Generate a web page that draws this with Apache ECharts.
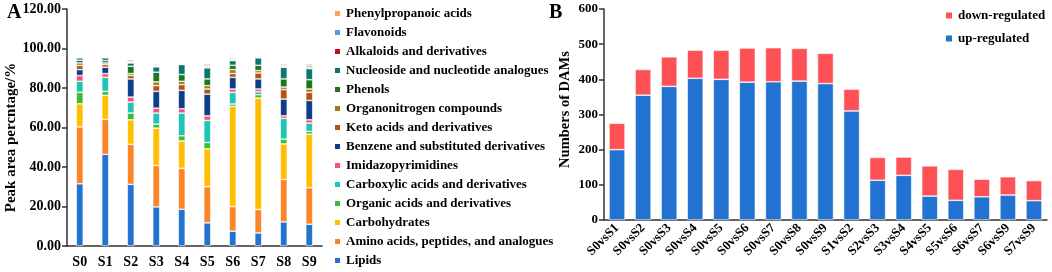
<!DOCTYPE html>
<html>
<head>
<meta charset="utf-8">
<script src="https://cdn.jsdelivr.net/npm/echarts@6/dist/echarts.min.js"></script>
<style>
  html, body { margin: 0; padding: 0; background: #fff; }
  #chart { width: 1052px; height: 272px; }
</style>
</head>
<body>
<div id="chart"></div>
<script>
// panel A: peak area percentage per sample, stacked by class
var samples = ["S0", "S1", "S2", "S3", "S4", "S5", "S6", "S7", "S8", "S9"];
var lipids         = [31.5, 46.4, 31.2, 19.8, 18.6, 11.7, 7.5, 6.6, 12.2, 11.0];
var aminoAcids     = [28.8, 17.7, 20.3, 21.0, 20.7, 18.3, 12.5, 11.9, 21.5, 18.5];
var carbohydrates  = [11.7, 12.2, 12.4, 18.9, 13.9, 19.2, 50.7, 56.4, 18.0, 27.1];
var organicAcids   = [5.8, 2.0, 3.4, 2.0, 2.6, 3.2, 1.2, 1.7, 2.4, 1.4];
var carboxylic     = [5.6, 7.1, 5.6, 5.6, 11.5, 11.2, 5.9, 1.5, 10.5, 4.2];
var imidazo        = [2.9, 1.9, 2.5, 2.5, 2.2, 2.3, 1.7, 1.4, 1.3, 1.7];
var benzene        = [3.0, 3.2, 9.2, 8.5, 9.3, 11.0, 5.9, 5.1, 8.5, 9.8];
var ketoAcids      = [2.1, 1.4, 1.7, 2.9, 2.9, 2.6, 1.9, 3.0, 4.8, 4.1];
var organonitrogen = [1.3, 0.8, 1.0, 1.9, 1.7, 1.7, 2.0, 1.2, 1.3, 1.7];
var phenols        = [1.4, 1.2, 3.7, 4.9, 3.4, 3.4, 2.2, 2.7, 4.1, 4.7];
var nucleoside     = [1.2, 1.4, 1.7, 2.7, 5.1, 5.6, 2.4, 3.8, 5.9, 5.6];
var alkaloids      = [0.2, 0.2, 0.3, 0.4, 0.1, 0.4, 0.3, 0.1, 0.4, 0.4];
var flavonoids     = [0.2, 0.4, 0.3, 0.5, 0.1, 0.6, 0.5, 0.1, 0.5, 1.0];
var phenylprop     = [0.2, 0.2, 1.0, 0.6, 0.1, 1.0, 0.7, 0.1, 0.8, 1.0];

// panel B: differential metabolites per comparison
var comparisons = ["S0vsS1", "S0vsS2", "S0vsS3", "S0vsS4", "S0vsS5", "S0vsS6", "S0vsS7", "S0vsS8", "S0vsS9",
                   "S1vsS2", "S2vsS3", "S3vsS4", "S4vsS5", "S5vsS6", "S6vsS7", "S6vsS9", "S7vsS9"];
var upRegulated   = [200, 355, 380, 403, 400, 392, 393, 395, 388, 310, 113, 127, 68, 56, 66, 71, 55];
var downRegulated = [75, 73, 84, 80, 83, 97, 97, 93, 86, 62, 65, 52, 86, 88, 50, 52, 57];

var serif = "Liberation Serif";

var classes = [
    { name: "Lipids", data: lipids, color: "#2272d1" },
    { name: "Amino acids, peptides, and analogues", data: aminoAcids, color: "#fb8526" },
    { name: "Carbohydrates", data: carbohydrates, color: "#ffbf00" },
    { name: "Organic acids and derivatives", data: organicAcids, color: "#3bbd30" },
    { name: "Carboxylic acids and derivatives", data: carboxylic, color: "#1ec4b6" },
    { name: "Imidazopyrimidines", data: imidazo, color: "#fd4f6b" },
    { name: "Benzene and substituted derivatives", data: benzene, color: "#0d3d8b" },
    { name: "Keto acids and derivatives", data: ketoAcids, color: "#b9500f" },
    { name: "Organonitrogen compounds", data: organonitrogen, color: "#a27812" },
    { name: "Phenols", data: phenols, color: "#1c761c" },
    { name: "Nucleoside and nucleotide analogues", data: nucleoside, color: "#0b766f" },
    { name: "Alkaloids and derivatives", data: alkaloids, color: "#c0111f" },
    { name: "Flavonoids", data: flavonoids, color: "#5b96e2" },
    { name: "Phenylpropanoic acids", data: phenylprop, color: "#ffa05c" }
];

var series = classes.map(function (c) {
    return {
        name: c.name, type: "bar", stack: "A", xAxisIndex: 0, yAxisIndex: 0,
        barWidth: 7, data: c.data,
        itemStyle: { color: c.color, borderColor: "#fff", borderWidth: 0.6 }
    };
});
series.push({
    name: "up-regulated", type: "bar", stack: "B", xAxisIndex: 1, yAxisIndex: 1,
    barWidth: 16, data: upRegulated,
    itemStyle: { color: "#2272d1", borderColor: "#fff", borderWidth: 0.6 }
});
series.push({
    name: "down-regulated", type: "bar", stack: "B", xAxisIndex: 1, yAxisIndex: 1,
    barWidth: 16, data: downRegulated,
    itemStyle: { color: "#fd5156", borderColor: "#fff", borderWidth: 0.6 }
});

var axisLine = { lineStyle: { color: "#333", width: 1.5 } };
var axisTick = { length: 5, lineStyle: { color: "#333", width: 1.5 } };
var label = { fontFamily: serif, fontWeight: "bold", color: "#000", fontSize: 14 };

var chart = echarts.init(document.getElementById("chart"));
chart.setOption({
    animation: false,
    title: [
        { text: "A", left: 2, top: -2, textStyle: { fontFamily: serif, fontWeight: "bold", fontSize: 20, color: "#000" } },
        { text: "B", left: 544, top: -2, textStyle: { fontFamily: serif, fontWeight: "bold", fontSize: 20, color: "#000" } }
    ],
    legend: [{
        orient: "vertical", left: 333, top: 7, padding: 0, height: 265,
        itemWidth: 7, itemHeight: 7, itemGap: 6, icon: "rect",
        textStyle: { fontFamily: serif, fontWeight: "bold", fontSize: 13, color: "#000" },
        data: classes.map(function (c) { return c.name; }).reverse()
    }, {
        orient: "vertical", left: 944, top: 9, padding: 0,
        itemWidth: 8, itemHeight: 8, itemGap: 10, icon: "rect",
        textStyle: { fontFamily: serif, fontWeight: "bold", fontSize: 13, color: "#000" },
        data: ["down-regulated", "up-regulated"]
    }],
    grid: [
        { left: 67, top: 9, width: 255, height: 237 },
        { left: 604, top: 9, width: 443, height: 211 }
    ],
    xAxis: [{
        type: "category", gridIndex: 0, data: samples,
        axisLine: axisLine, axisTick: axisTick,
        axisLabel: Object.assign({}, label, { margin: 9 })
    }, {
        type: "category", gridIndex: 1, data: comparisons,
        axisLine: axisLine, axisTick: axisTick,
        axisLabel: Object.assign({}, label, { fontSize: 13, rotate: 45, margin: 6, interval: 0 })
    }],
    yAxis: [{
        type: "value", gridIndex: 0, min: 0, max: 120, interval: 20,
        name: "Peak area percntage/%", nameLocation: "middle", nameGap: 46,
        nameTextStyle: { fontFamily: serif, fontWeight: "bold", fontSize: 15, color: "#000", padding: [0, 20, 0, 0] },
        axisLine: Object.assign({ show: true }, axisLine), axisTick: Object.assign({ show: true }, axisTick),
        splitLine: { show: false },
        axisLabel: Object.assign({}, label, { margin: 6, formatter: function (v) { return v.toFixed(2); } })
    }, {
        type: "value", gridIndex: 1, min: 0, max: 600, interval: 100,
        name: "Numbers of DAMs", nameLocation: "middle", nameGap: 31,
        nameTextStyle: { fontFamily: serif, fontWeight: "bold", fontSize: 14.5, color: "#000", padding: [0, 0, 0, 10] },
        axisLine: Object.assign({ show: true }, axisLine), axisTick: Object.assign({ show: true }, axisTick),
        splitLine: { show: false },
        axisLabel: Object.assign({}, label, { fontSize: 13, margin: 6 })
    }],
    series: series
});
</script>
</body>
</html>
